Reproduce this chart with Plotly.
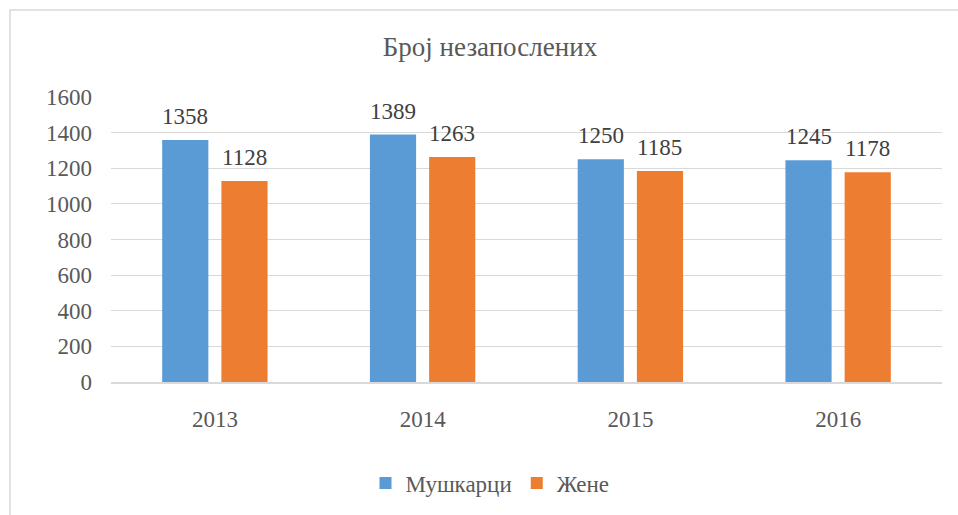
import plotly.graph_objects as go

years = ["2013", "2014", "2015", "2016"]
muski = [1358, 1389, 1250, 1245]
zene = [1128, 1263, 1185, 1178]
series_names = ["Мушкарци", "Жене"]
colors = ["#5B9BD5", "#ED7D31"]
title = "Број незапослених"

W, H = 958, 515
L, R, T, B = 111, 16, 97, 133
pw, ph = W - L - R, H - T - B
BARGAP, GROUPGAP = 0.43, 0.22

fam = "'Liberation Serif', 'Times New Roman', serif"
font = dict(family=fam, color="#595959")

fig = go.Figure()
for name, vals, c in zip(series_names, [muski, zene], colors):
    fig.add_trace(go.Bar(x=years, y=vals, name=name, marker=dict(color=c, line=dict(width=0))))

# data labels (category axis: annotations use category index)
slot = pw / len(years) * (1 - BARGAP) / 2
for i, vals in enumerate([muski, zene]):
    shift = (i - 0.5) * slot
    for k, v in enumerate(vals):
        fig.add_annotation(x=k, y=v, xref="x", yref="y", text=str(v), showarrow=False,
                           xshift=shift, yanchor="bottom", yshift=9,
                           font=dict(size=23, family=fam, color="#404040"))

def px_x(p):
    return (p - L) / pw

def px_y(p):
    return (H - B - p) / ph

fig.add_shape(type="rect", xref="paper", yref="paper",
              x0=px_x(10), x1=px_x(962), y0=px_y(519), y1=px_y(10),
              line=dict(color="#D9D9D9", width=1.5), layer="below")

fig.update_layout(
    width=W, height=H,
    margin=dict(l=L, r=R, t=T, b=B),
    paper_bgcolor="white", plot_bgcolor="white",
    font=dict(size=23, **font),
    title=dict(text=title, x=490 / W, xanchor="center", y=1 - 47 / H, yanchor="middle",
               yref="container", font=dict(size=27, **font)),
    barmode="group", bargap=BARGAP, bargroupgap=GROUPGAP,
    showlegend=True,
    legend=dict(orientation="h", x=490 / W, xref="container", xanchor="center",
                y=1 - 483 / H, yref="container", yanchor="middle",
                font=dict(size=23, **font), itemwidth=30, traceorder="normal"),
    xaxis=dict(type="category", categoryorder="array", categoryarray=years,
               range=[-0.5, len(years) - 0.5], autorange=False,
               showline=True, linecolor="#D9D9D9", linewidth=1.5, ticks="",
               tickfont=dict(size=23, **font), ticklabelstandoff=16),
    yaxis=dict(range=[0, 1600], autorange=False, dtick=200, showgrid=True, gridcolor="#D9D9D9",
               gridwidth=1, zeroline=False, showline=False, ticks="",
               tickfont=dict(size=23, **font), ticklabelstandoff=18),
)

fig.write_html("out.html", config={"displayModeBar": False},
               post_script="document.body.style.margin='0';document.body.style.overflow='hidden';")
